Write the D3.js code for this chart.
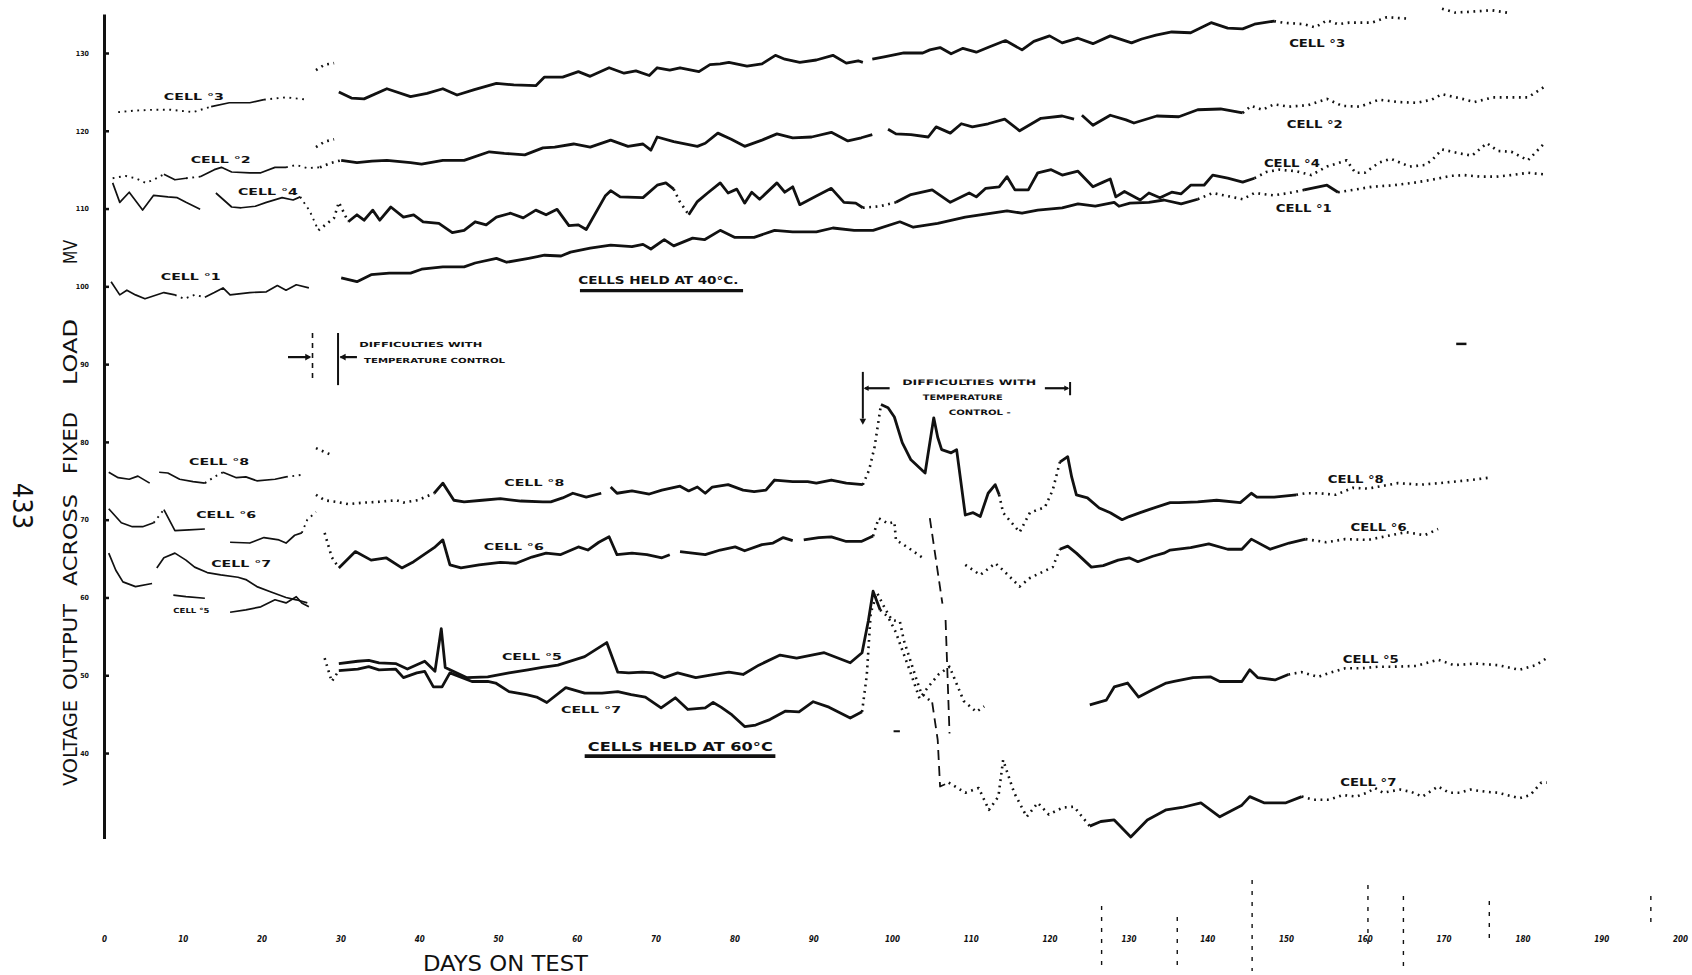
<!DOCTYPE html>
<html>
<head>
<meta charset="utf-8">
<script src="https://cdn.jsdelivr.net/npm/d3@7"></script>
<style>
html, body { margin: 0; padding: 0; background: #fff; }
svg { display: block; }
text { font-family: "DejaVu Sans Condensed", "Liberation Sans Narrow", "DejaVu Sans", sans-serif; fill: #111; }
</style>
</head>
<body>
<svg id="chart" width="1692" height="975"></svg>
<script>
// Voltage output across fixed load (mV) vs. days on test.
// Each series is a list of [day, mV]; a null value marks a break in the trace.

const dayTicks = d3.range(0, 201, 10);
const mvTicks = [40, 50, 60, 70, 80, 90, 100, 110, 120, 130];

// ---- cells held at 40 C ----
const cell3 = [
  [1.8,122.4],[4.0,122.6],[6.3,122.7],[8.5,122.7],[11.3,122.4],[13.6,123.1],[15.9,123.6],[18.5,123.6],[20.3,124.0],[23.1,124.3],[25.8,124.0],
  [26.4,null],[26.9,127.8],[28.0,128.5],[29.2,128.7],[29.5,null],
  [29.8,125.0],[31.4,124.2],[33.0,124.1],[35.9,125.4],[38.9,124.4],[41.0,124.8],[43.0,125.4],[44.8,124.6],[47.0,125.3],[49.8,126.1],[52.0,125.9],[54.8,125.8],[55.9,126.9],[58.2,126.9],[60.2,127.6],[61.7,127.0],[64.1,128.1],[66.0,127.4],[67.5,127.7],[69.2,127.1],[70.2,128.1],[71.8,127.8],[73.1,128.1],[75.5,127.6],[76.9,128.5],[78.2,128.6],[79.3,128.8],[81.6,128.3],[83.5,128.6],[85.2,129.7],[86.4,129.2],[88.3,128.8],[90.4,129.1],[92.5,129.7],[94.2,128.7],[95.7,129.0],[96.3,128.8],
  [96.9,null],
  [97.5,129.2],[99.0,129.5],[101.5,130.0],[103.9,130.0],[104.8,130.4],[106.1,130.7],[107.5,129.9],[109.0,130.6],[110.7,130.1],[112.4,130.8],[114.4,131.6],[116.5,130.4],[118.0,131.5],[120.0,132.2],[121.6,131.3],[123.6,131.9],[125.5,131.2],[127.7,132.2],[130.4,131.3],[131.7,131.8],[133.5,132.3],[135.5,132.7],[137.9,132.6],[140.5,133.9],[142.6,133.2],[144.5,133.1],[146.0,133.7],[148.5,134.1],[149.6,133.9],[152.3,133.7],[153.7,133.3],[155.2,134.2],[156.6,133.7],[158.0,133.9],[160.9,133.9],[162.8,134.6],[165.7,134.4],
  [167.5,null],
  [169.8,135.7],[171.4,135.2],[173.4,135.3],[176.1,135.5],[178.6,135.1]
];
const cell2 = [
  [1.1,113.9],[2.7,114.2],[4.0,113.9],[5.3,113.3],[6.3,113.7],[7.6,114.4],[9.0,113.7],[10.4,113.9],[12.2,114.1],[14.0,115.0],[14.9,115.3],[16.2,114.7],[18.5,114.6],[19.9,114.6],[21.7,115.3],[23.1,115.3],[24.4,115.6],[25.8,115.2],[27.4,115.3],[28.9,115.9],
  [30.1,116.2],[32.1,115.9],[34.0,116.1],[35.9,116.2],[38.9,115.9],[40.3,115.7],[43.0,116.2],[45.7,116.2],[48.9,117.3],[50.8,117.1],[53.4,116.9],[55.7,117.8],[57.2,117.9],[59.6,118.3],[61.7,117.9],[64.3,118.8],[66.5,118.0],[68.4,118.3],[69.4,117.5],[70.2,119.2],[72.3,118.6],[75.3,118.0],[76.3,118.4],[77.9,119.7],[79.6,118.9],[81.3,118.0],[83.5,118.8],[85.4,119.6],[87.4,119.1],[89.8,119.2],[92.3,119.8],[94.4,118.7],[96.1,119.1],[97.5,119.5],
  [98.5,null],
  [99.5,120.2],[100.5,119.6],[102.4,119.5],[104.6,119.2],[105.6,120.5],[107.4,119.7],[108.8,120.9],[110.2,120.5],[112.2,120.9],[114.3,121.5],[116.2,120.0],[118.9,121.6],[121.6,121.9],[123.1,121.5],
  [123.6,null],
  [124.1,122.0],[125.5,120.7],[127.7,122.0],[129.7,121.4],[130.7,121.0],[133.6,121.9],[136.4,121.8],[138.8,122.7],[141.7,122.8],[144.5,122.3],[145.6,123.2],[147.0,122.7],[148.5,123.4],[150.4,123.1],[152.8,123.3],[155.2,124.1],[157.1,123.2],[159.4,123.1],[161.8,124.0],[164.2,123.7],[166.6,123.6],[168.5,124.0],[169.8,124.7],[172.0,124.2],[173.9,123.7],[176.3,124.3],[178.7,124.3],[180.7,124.3],[182.7,125.6],
  [183.0,null],
  [26.9,117.9],[28.0,118.6],[29.2,118.9]
];
const cell4 = [
  [1.1,113.3],[2.0,110.8],[3.2,112.1],[4.9,109.8],[6.3,111.7],[8.1,111.5],[9.3,111.4],[10.4,110.8],[12.2,109.9],
  [13.2,null],
  [14.2,112.0],[16.2,110.2],[17.4,110.1],[19.2,110.3],[20.6,110.8],[22.6,111.4],[24.0,111.1],[24.9,111.5],[26.1,109.7],[27.2,107.2],[29.2,108.8],[29.8,110.8],
  [31.0,108.3],[32.1,109.2],[33.0,108.5],[34.1,109.8],[35.0,108.5],[36.4,110.2],[38.0,108.9],[39.3,109.2],[40.5,108.3],[42.5,108.1],[44.2,106.9],[45.7,107.2],[47.1,108.3],[48.5,107.9],[49.8,108.9],[51.6,109.4],[53.2,108.8],[54.8,109.8],[56.1,109.2],[57.5,109.9],[59.0,107.8],[60.2,107.9],[61.2,107.3],[63.6,111.6],[64.3,112.3],[65.5,111.5],[68.4,111.4],[70.2,113.0],[71.3,113.3],[72.3,112.5],[73.0,111.0],[74.2,109.2],[75.3,110.9],[76.6,112.0],[78.2,113.3],[79.2,112.0],[80.3,112.5],[81.3,110.7],[82.2,112.1],[83.2,111.2],[85.4,113.3],[86.4,112.1],[87.4,112.8],[88.3,110.5],[90.4,111.6],[92.3,112.6],[93.9,110.8],[95.4,110.7],[96.3,110.1],[98.5,110.3],[100.5,110.8],[102.4,111.8],[105.1,112.4],[107.4,110.8],[109.8,112.0],[110.7,111.5],[111.9,112.6],[113.6,112.8],[114.6,114.1],[115.6,112.4],[117.3,112.4],[118.5,114.6],[120.2,115.0],[121.6,114.3],[123.6,114.8],[125.5,112.8],[126.8,113.4],[127.7,113.8],[128.4,111.5],[129.5,112.2],[131.5,111.1],[132.6,112.0],[134.0,111.4],[135.5,112.1],[136.7,111.9],[137.9,113.0],[139.6,113.0],[140.7,114.3],[142.6,113.9],[144.5,113.4],[146.0,113.9],[147.5,114.7],[149.1,115.0],[151.3,114.8],[153.2,114.3],[155.2,115.4],[157.7,116.2],[158.8,114.6],[160.0,114.6],[161.8,115.9],[163.3,116.4],[165.7,115.4],[167.6,115.6],[168.5,116.2],[169.8,117.6],[172.0,117.1],[173.6,116.8],[175.5,118.4],[176.9,117.4],[178.6,117.3],[180.7,116.2],[182.7,118.3]
];
const cell1 = [
  [0.9,100.6],[2.0,98.9],[2.9,99.5],[4.0,98.9],[5.2,98.4],[7.6,99.2],[9.0,98.9],[10.2,98.4],[11.5,98.9],[12.8,98.6],[14.0,99.2],[15.1,99.8],[16.0,98.9],[18.5,99.2],[20.6,99.3],[22.0,100.1],[23.1,99.5],[24.4,100.2],[26.0,99.8],
  [28.0,null],
  [30.1,101.1],[32.1,100.6],[33.9,101.5],[36.2,101.7],[38.9,101.7],[40.3,102.2],[43.0,102.5],[45.7,102.5],[47.1,103.0],[49.8,103.6],[51.1,103.1],[53.9,103.6],[55.9,104.0],[58.0,103.9],[59.2,104.4],[61.7,104.9],[64.3,105.3],[67.0,105.1],[68.4,105.4],[69.4,104.8],[71.1,106.0],[72.3,105.2],[74.7,106.2],[76.2,106.0],[78.2,107.2],[80.0,106.3],[82.5,106.3],[85.1,107.2],[87.4,107.0],[90.4,107.0],[92.5,107.5],[95.2,107.2],[97.6,107.2],[101.0,108.3],[102.7,107.6],[105.8,108.1],[109.3,108.9],[111.2,109.2],[114.6,109.7],[116.5,109.4],[118.5,109.8],[121.6,110.1],[123.6,110.6],[125.8,110.3],[128.2,110.8],[128.8,110.3],[130.2,110.7],[132.6,110.8],[134.5,111.1],[136.7,110.6],[138.8,111.2],[140.7,112.0],[142.6,111.6],[144.5,111.2],[146.0,112.0],[148.5,111.7],[150.4,112.0],[152.3,112.4],[155.2,113.0],[156.6,112.1],[158.5,112.4],[160.9,112.8],[163.7,113.0],[166.1,113.3],[168.5,113.7],[170.9,114.2],[172.6,114.3],[174.7,114.1],[176.7,114.1],[178.6,114.3],[180.7,114.6],[182.8,114.4]
];

// ---- cells held at 60 C ----
const cell8 = [
  [0.6,76.1],[1.8,75.4],[3.2,75.2],[4.3,75.6],[5.8,74.7],
  [6.4,null],
  [7.0,76.1],[8.1,76.0],[9.6,75.2],[11.3,74.9],[12.8,74.7],[14.0,75.5],[15.1,76.1],[16.8,75.4],[18.0,75.5],[19.4,75.0],[21.7,75.2],[23.1,75.5],[25.4,75.8],
  [26.0,null],
  [26.9,79.2],[28.9,78.3],
  [29.0,null],
  [26.9,73.2],[28.0,72.5],[29.4,72.3],[31.0,72.0],[33.0,72.2],[34.9,72.3],[37.1,72.5],[38.0,72.2],[39.8,72.5],[41.9,73.4],[43.0,74.7],[44.4,72.5],[45.7,72.3],[48.0,72.5],[50.3,72.7],[52.9,72.4],[55.7,72.3],[56.7,72.3],[58.2,72.8],[59.5,73.4],[61.2,72.9],[63.1,73.4],
  [63.7,null],
  [64.3,74.2],[65.1,73.4],[67.0,73.7],[69.2,73.3],[70.8,73.8],[73.1,74.3],[74.2,73.7],[75.3,74.2],[76.3,73.4],[77.2,74.2],[79.2,74.5],[81.1,73.8],[82.5,73.6],[84.0,73.8],[85.1,75.1],[87.4,74.9],[89.3,74.9],[90.4,74.7],[92.3,75.1],[94.2,74.7],[96.3,74.5],[97.1,76.4],[97.8,79.4],[98.6,84.8],[99.5,84.4],[100.3,83.2],[101.3,79.9],[102.4,77.7],[104.2,76.0],[104.6,78.6],[105.3,83.1],[105.8,80.6],[106.3,79.0],[107.5,78.6],[108.2,79.0],[109.3,70.6],[110.3,70.9],[111.2,70.4],[112.2,73.4],[113.1,74.5],[113.6,73.2],[114.1,70.9],[116.2,68.4],[117.5,70.9],[119.4,71.6],[120.4,73.8],[121.3,77.4],[122.3,78.1],[122.8,75.5],[123.4,73.2],[124.8,72.8],[126.3,71.5],[127.7,70.9],[129.2,70.0],[130.1,70.4],[131.5,70.9],[132.6,71.3],[135.3,72.2],[136.4,72.2],[138.8,72.3],[141.2,72.5],[144.2,72.2],[145.6,73.4],[146.3,72.9],[148.5,72.9],[151.3,73.2],[152.5,73.4],[154.2,73.4],[156.3,73.2],[158.5,74.1],[160.4,74.0],[164.2,74.7],[167.1,74.5],[169.5,74.7],[173.4,75.1],[175.8,75.4]
];
const cell6 = [
  [0.6,71.4],[2.2,69.6],[3.6,69.1],[4.9,69.1],[6.3,69.6],[7.6,71.3],[9.0,68.6],[10.8,68.7],[12.8,68.8],
  [14.0,null],
  [16.0,67.1],[18.5,67.0],[20.3,67.7],[22.2,67.4],[23.1,67.0],[24.2,68.0],[25.1,68.3],[25.8,70.0],[26.9,71.0],
  [27.4,null],
  [28.0,68.3],[28.9,65.2],[29.8,63.8],[31.9,65.9],[33.9,64.8],[35.8,65.1],[37.8,63.8],[39.3,64.6],[41.9,66.4],[43.0,67.4],[43.9,64.2],[45.3,63.8],[47.6,64.2],[50.3,64.5],[52.3,64.4],[54.3,65.2],[56.1,65.7],[57.9,65.5],[60.2,66.5],[61.4,66.1],[62.8,67.1],[64.1,67.8],[65.1,65.5],[67.0,65.7],[68.9,65.5],[70.8,65.1],[71.8,65.5],
  [72.4,null],
  [73.1,65.9],[74.7,65.7],[76.3,65.5],[78.2,66.1],[80.1,66.5],[81.3,66.0],[83.5,66.8],[84.9,67.0],[86.2,67.7],[87.4,67.3],
  [88.1,null],
  [88.8,67.4],[90.7,67.7],[92.3,67.8],[94.2,67.2],[96.1,67.2],[97.6,67.9],[98.3,70.2],[99.5,69.5],[100.3,69.7],[100.5,67.4],[101.9,66.5],[103.9,65.1],
  [104.3,null],
  [109.3,64.2],[111.2,62.9],[113.1,64.4],[114.1,63.5],[116.2,61.4],[117.5,62.5],[120.4,63.9],[121.3,66.2],[122.3,66.6],[123.4,65.7],[125.3,63.9],[126.8,64.1],[128.7,64.8],[130.1,65.1],[131.2,64.6],[133.1,65.3],[134.5,65.7],[135.3,66.1],[137.9,66.4],[140.2,66.9],[142.6,66.2],[144.4,66.2],[145.6,67.5],[148.0,66.2],[150.4,67.0],[152.5,67.5],[155.1,67.1],[157.5,67.5],[160.4,67.4],[163.3,68.0],[165.2,68.4],[167.6,68.0],[169.3,68.8]
];
const cell5 = [
  [8.8,60.3],[10.4,60.1],[12.8,59.9],
  [14.0,null],
  [16.0,58.1],[18.0,58.4],[19.9,58.8],[21.7,59.7],[23.1,59.3],[24.4,60.1],[25.1,59.3],[26.0,58.8],
  [27.0,null],
  [29.8,51.5],[32.2,51.8],[33.6,51.9],[34.9,51.6],[37.0,51.5],[38.5,50.8],[40.7,51.8],[42.0,50.5],[42.8,56.0],[43.3,51.0],[43.9,50.7],[46.0,49.7],[48.7,49.8],[51.4,50.3],[53.8,50.7],[55.6,51.0],[57.6,51.3],[59.8,52.0],[61.0,52.4],[62.4,53.3],[63.8,54.2],[65.2,50.4],[66.6,50.3],[68.3,50.4],[69.7,50.3],[71.1,49.7],[72.8,50.3],[75.1,49.7],[77.5,50.1],[79.3,50.4],[81.1,50.1],[83.1,51.3],[85.8,52.6],[87.9,52.2],[91.4,52.9],[94.7,51.6],[96.2,52.9],[97.0,57.0],[97.6,60.8],[98.5,58.4],[99.5,57.5],[100.5,55.5],[101.1,53.8],[102.3,50.5],[103.5,47.0],[104.6,48.5],[105.9,50.1],[107.3,51.1],[109.1,46.7],[110.7,45.3],[111.7,46.0],
  [112.5,null],
  [125.1,46.2],[127.2,46.8],[128.2,48.5],[129.9,49.0],[131.3,47.2],[133.0,48.1],[134.8,49.0],[135.8,49.2],[138.2,49.7],[140.4,49.8],[141.6,49.2],[144.4,49.2],[145.4,50.7],[146.4,49.7],[148.6,49.4],[150.3,50.1],[152.0,50.4],[154.1,49.8],[155.5,50.3],[157.5,50.9],[159.6,50.9],[161.7,51.1],[163.7,51.1],[166.5,51.2],[169.3,52.0],[171.3,51.3],[174.1,51.5],[176.9,51.3],[179.6,50.7],[181.7,51.3],[183.1,52.2]
];
const cell7 = [
  [0.6,65.7],[1.5,63.5],[2.4,62.0],[4.0,61.4],[6.1,61.8],
  [6.4,null],
  [6.7,63.8],[7.6,65.1],[9.0,65.7],[10.4,64.8],[11.5,63.9],[13.1,63.2],[14.8,62.9],[17.0,62.6],[18.0,62.3],[19.4,61.4],[21.2,60.7],[23.1,60.0],[24.4,59.7],[25.8,59.3],
  [27.0,null],
  [28.0,52.2],[28.9,49.2],[29.8,50.6],[32.2,50.8],[33.6,51.1],[34.9,50.7],[37.0,50.8],[38.0,49.7],[39.7,50.3],[40.7,50.5],[41.8,48.5],[42.9,48.5],[43.9,50.3],[46.7,49.2],[48.7,49.2],[49.7,49.0],[51.4,47.9],[53.6,47.5],[54.9,47.2],[56.2,46.5],[58.6,48.4],[61.0,47.7],[63.2,47.7],[65.2,47.9],[66.9,47.5],[68.7,47.2],[70.7,45.8],[72.5,47.1],[74.1,45.6],[76.3,45.8],[77.3,46.5],[78.3,45.9],[79.7,44.9],[81.3,43.4],[82.7,43.6],[84.5,44.3],[86.5,45.4],[88.2,45.3],[90.0,46.6],[92.0,45.9],[94.7,44.5],[96.2,45.3],[96.8,50.0],[97.3,58.0],[98.1,60.6],[99.2,58.4],[100.0,57.1],[101.0,56.9],[101.5,54.5],[103.0,49.8],[103.7,47.7],[105.1,46.5],[105.8,41.7],[106.1,35.7],[107.2,36.2],[109.3,34.9],[111.0,35.5],[112.3,32.7],[113.5,34.4],[114.1,39.1],[115.5,34.9],[117.1,31.8],[118.5,33.6],[119.9,32.1],[121.7,33.0],[123.1,33.1],[125.1,30.6],[126.5,31.2],[128.2,31.4],[130.3,29.2],[132.4,31.4],[134.8,32.7],[136.8,33.0],[139.2,33.6],[141.6,31.8],[144.4,33.3],[145.4,34.4],[147.2,33.6],[150.0,33.6],[152.0,34.4],[153.4,34.0],[155.5,34.0],[157.2,34.6],[158.9,34.4],[160.3,34.9],[161.3,35.5],[162.3,34.9],[164.5,35.3],[165.9,35.0],[167.3,34.4],[169.3,35.7],[170.7,34.9],[172.1,34.9],[173.4,35.3],[175.5,35.0],[176.9,34.9],[179.6,34.2],[181.0,34.6],[182.4,36.2],[183.1,36.2],
  [183.5,null],
  [104.8,70.2],[106.4,59.2],
  [106.6,null],
  [106.8,57.1],[107.3,42.5]
];

// Day spans traced with a dotted pen, and spans drawn in long dashes
const cell3Dotted = [[0,13.5],[19.5,29.5],[148.5,185]];
const cell2Dotted = [[0,7],[10,13],[23.5,30],[145,185]];
const cell4Dotted = [[25,31],[72.5,74],[96,100],[146.5,185]];
const cell1Dotted = [[9.5,13],[138.8,152],[156.8,185]];
const cell8Dotted = [[13,15],[22.5,42],[96.3,98.6],[113.8,121],[151.5,185]];
const cell6Dotted = [[6,8],[25,29.5],[97.6,121],[152.5,185]];
const cell5Dotted = [[26,29.8],[98.5,125],[150,185]];
const cell7Dotted = [[6,7],[26,29.8],[96.2,125],[152,185]];
const cell7Dashed = [[104.5,108]];

const series = [
  { id: "cell3", pts: cell3, dotted: cell3Dotted, dashed: [] },
  { id: "cell2", pts: cell2, dotted: cell2Dotted, dashed: [] },
  { id: "cell4", pts: cell4, dotted: cell4Dotted, dashed: [] },
  { id: "cell1", pts: cell1, dotted: cell1Dotted, dashed: [] },
  { id: "cell8", pts: cell8, dotted: cell8Dotted, dashed: [] },
  { id: "cell6", pts: cell6, dotted: cell6Dotted, dashed: [] },
  { id: "cell5", pts: cell5, dotted: cell5Dotted, dashed: [] },
  { id: "cell7", pts: cell7, dotted: cell7Dotted, dashed: cell7Dashed }
];

// Hand-lettered series labels, anchored in day / mV units
const cellLabels = [
  ["CELL °3", 7.6, 124.0, "s"], ["CELL °2", 11.0, 115.9, "s"], ["CELL °4", 17.0, 111.7, "s"], ["CELL °1", 7.2, 100.8, "s"],
  ["CELL °3", 150.4, 130.8, "b"], ["CELL °2", 150.1, 120.4, "b"], ["CELL °4", 147.2, 115.3, "b"], ["CELL °1", 148.7, 109.6, "b"],
  ["CELL °8", 10.8, 77.0, "s"], ["CELL °6", 11.7, 70.2, "s"], ["CELL °7", 13.6, 63.9, "s"], ["CELL °5", 8.8, 58.0, "xs"],
  ["CELL °8", 50.8, 74.3, "s"], ["CELL °6", 48.2, 66.1, "s"], ["CELL °5", 50.5, 52.0, "s"], ["CELL °7", 58.0, 45.1, "s"],
  ["CELL °8", 155.3, 74.7, "b"], ["CELL °6", 158.2, 68.6, "b"], ["CELL °5", 157.2, 51.6, "b"], ["CELL °7", 156.9, 35.7, "b"]
];

const thinBefore = 27;   // early readings were drawn with a finer pen

const svg = d3.select("#chart");
const x = d3.scaleLinear().domain([0, 200]).range([104, 1680]);
const y = d3.scaleLinear().domain([29, 135]).range([838.6, 14.1]);
const ink = "#111";

// ---- axes ----
const yAxis = d3.axisLeft(y).tickValues(mvTicks).tickSizeInner(-5).tickSizeOuter(0).tickPadding(15);
const gy = svg.append("g").attr("transform", `translate(${x(0)},0)`).call(yAxis);
gy.select(".domain").attr("stroke", ink).attr("stroke-width", 3);
gy.selectAll(".tick line").attr("stroke", ink).attr("stroke-width", 2.5);
gy.selectAll(".tick text").attr("font-size", 7).attr("font-weight", "bold").attr("fill", ink);

const xAxis = d3.axisBottom(x).tickValues(dayTicks).tickSize(0).tickPadding(0);
const gx = svg.append("g").attr("transform", "translate(0,936)").call(xAxis);
gx.select(".domain").remove();
gx.selectAll(".tick text").attr("font-size", 8).attr("font-weight", "bold").attr("font-style", "italic").attr("fill", ink);

// ---- traces ----
const line = d3.line().x(d => x(d[0])).y(d => y(d[1]));
const inAny = (d, ranges) => ranges.some(([a, b]) => d >= a && d <= b);

const gLines = svg.append("g").attr("fill", "none").attr("stroke", ink).attr("stroke-linejoin", "round");
series.forEach(s => {
  const runs = [];
  let cur = [];
  s.pts.forEach(p => {
    if (p[1] === null) { if (cur.length) runs.push(cur); cur = []; }
    else cur.push(p);
  });
  if (cur.length) runs.push(cur);

  runs.forEach(run => {
    const pieces = [];
    let piece = null;
    for (let i = 0; i < run.length - 1; i++) {
      const a = run[i], b = run[i + 1];
      const mid = (a[0] + b[0]) / 2;
      const kind = inAny(mid, s.dashed) ? "dash" : inAny(mid, s.dotted) ? "dot" : "solid";
      const thin = mid < thinBefore;
      const key = kind + (thin ? "-thin" : "");
      if (!piece || piece.key !== key) { piece = { key, kind, thin, pts: [a] }; pieces.push(piece); }
      piece.pts.push(b);
    }
    pieces.forEach(pc => {
      const p = gLines.append("path").attr("class", s.id).attr("d", line(pc.pts));
      if (pc.kind === "solid") {
        p.attr("stroke-width", pc.thin ? 1.7 : 2.8);
      } else if (pc.kind === "dot") {
        p.attr("stroke-width", pc.thin ? 1.9 : 2.6).attr("stroke-dasharray", "1.8,4.6");
      } else {
        p.attr("stroke-width", 1.8).attr("stroke-dasharray", "10,6");
      }
    });
  });
});

// ---- series labels ----
svg.append("g").selectAll("text").data(cellLabels).join("text")
  .attr("x", d => x(d[1]))
  .attr("y", d => y(d[2]))
  .attr("font-weight", "bold")
  .attr("font-size", d => d[3] === "b" ? 11 : d[3] === "xs" ? 7 : 8.5)
  .attr("textLength", d => d[3] === "b" ? 56 : d[3] === "xs" ? 36 : 60)
  .attr("lengthAdjust", "spacingAndGlyphs")
  .text(d => d[0]);

// ---- notes ----
const gNotes = svg.append("g").attr("stroke", ink).attr("fill", "none");
function arrowHead(g, px, py, dir, size) {
  const s = size || 6;
  const pts = dir === "right" ? [[px, py], [px - s, py - s * 0.55], [px - s, py + s * 0.55]]
            : dir === "left"  ? [[px, py], [px + s, py - s * 0.55], [px + s, py + s * 0.55]]
            :                   [[px, py], [px - s * 0.55, py - s], [px + s * 0.55, py - s]];
  g.append("path").attr("d", "M" + pts.map(p => p.join(",")).join("L") + "Z").attr("fill", ink).attr("stroke", "none");
}

// Temperature control trouble, first interval (days ~26-30)
gNotes.append("line").attr("x1", x(23.35)).attr("x2", x(26.1)).attr("y1", y(90.9)).attr("y2", y(90.9)).attr("stroke-width", 2.2);
arrowHead(gNotes, x(26.3), y(90.9), "right", 6);
gNotes.append("line").attr("x1", x(26.46)).attr("x2", x(26.46)).attr("y1", y(94.0)).attr("y2", y(87.6)).attr("stroke-width", 1.6).attr("stroke-dasharray", "5,5");
gNotes.append("line").attr("x1", x(29.7)).attr("x2", x(29.7)).attr("y1", y(94.0)).attr("y2", y(87.3)).attr("stroke-width", 2);
gNotes.append("line").attr("x1", x(32.1)).attr("x2", x(30.0)).attr("y1", y(90.9)).attr("y2", y(90.9)).attr("stroke-width", 2.2);
arrowHead(gNotes, x(29.9), y(90.9), "left", 6);
svg.append("text").attr("x", x(32.4)).attr("y", y(92.2)).attr("font-size", 7).attr("font-weight", "bold")
  .attr("textLength", 123).attr("lengthAdjust", "spacingAndGlyphs").text("DIFFICULTIES  WITH");
svg.append("text").attr("x", x(33.0)).attr("y", y(90.2)).attr("font-size", 7).attr("font-weight", "bold")
  .attr("textLength", 141).attr("lengthAdjust", "spacingAndGlyphs").text("TEMPERATURE  CONTROL");

// Temperature control trouble, second interval (days ~96-122)
gNotes.append("line").attr("x1", x(96.3)).attr("x2", x(96.3)).attr("y1", y(89.0)).attr("y2", y(83.0)).attr("stroke-width", 2);
arrowHead(gNotes, x(96.3), y(82.2), "down", 6);
gNotes.append("line").attr("x1", x(96.6)).attr("x2", x(99.7)).attr("y1", y(86.9)).attr("y2", y(86.9)).attr("stroke-width", 2.2);
arrowHead(gNotes, x(96.4), y(86.9), "left", 5);
gNotes.append("line").attr("x1", x(119.4)).attr("x2", x(122.3)).attr("y1", y(86.9)).attr("y2", y(86.9)).attr("stroke-width", 2.2);
arrowHead(gNotes, x(122.5), y(86.9), "right", 5);
gNotes.append("line").attr("x1", x(122.6)).attr("x2", x(122.6)).attr("y1", y(87.7)).attr("y2", y(86.0)).attr("stroke-width", 2);
svg.append("text").attr("x", x(101.3)).attr("y", y(87.3)).attr("font-size", 7.5).attr("font-weight", "bold")
  .attr("textLength", 134).attr("lengthAdjust", "spacingAndGlyphs").text("DIFFICULTIES   WITH");
svg.append("text").attr("x", x(103.9)).attr("y", y(85.4)).attr("font-size", 7.5).attr("font-weight", "bold")
  .attr("textLength", 80).attr("lengthAdjust", "spacingAndGlyphs").text("TEMPERATURE");
svg.append("text").attr("x", x(107.2)).attr("y", y(83.5)).attr("font-size", 7.5).attr("font-weight", "bold")
  .attr("textLength", 62).attr("lengthAdjust", "spacingAndGlyphs").text("CONTROL -");

// Test temperature captions
svg.append("text").attr("x", x(60.2)).attr("y", y(100.3)).attr("font-size", 10).attr("font-weight", "bold")
  .attr("textLength", 160).attr("lengthAdjust", "spacingAndGlyphs").text("CELLS HELD AT  40°C.");
gNotes.append("line").attr("x1", x(60.4)).attr("x2", x(81.1)).attr("y1", y(99.45)).attr("y2", y(99.45)).attr("stroke-width", 3.2);
svg.append("text").attr("x", x(61.4)).attr("y", y(40.2)).attr("font-size", 12).attr("font-weight", "bold")
  .attr("textLength", 185).attr("lengthAdjust", "spacingAndGlyphs").text("CELLS HELD AT  60°C");
gNotes.append("line").attr("x1", x(61.0)).attr("x2", x(85.2)).attr("y1", y(39.6)).attr("y2", y(39.6)).attr("stroke-width", 3.6);

// Faint pencil marks near the right of the day scale
const pencilMarks = [[126.6, 906, 971], [136.2, 917, 971], [145.7, 880, 971], [160.4, 885, 950], [164.9, 896, 971], [175.8, 901, 939], [196.3, 896, 928]];
svg.append("g").selectAll("line").data(pencilMarks).join("line")
  .attr("x1", d => x(d[0])).attr("x2", d => x(d[0]))
  .attr("y1", d => d[1]).attr("y2", d => d[2])
  .attr("stroke", ink).attr("stroke-width", 1.4).attr("stroke-dasharray", "4,7");
gNotes.append("line").attr("x1", x(171.6)).attr("x2", x(172.9)).attr("y1", y(92.6)).attr("y2", y(92.6)).attr("stroke-width", 2.5);
gNotes.append("line").attr("x1", x(100.2)).attr("x2", x(101.0)).attr("y1", y(42.8)).attr("y2", y(42.8)).attr("stroke-width", 2);

// ---- titles ----
const titleWords = [["VOLTAGE", 743, 86], ["OUTPUT", 647, 86], ["ACROSS", 540, 92], ["FIXED", 443, 62], ["LOAD", 352, 66], ["MV", 252, 24]];
svg.append("g").selectAll("text").data(titleWords).join("text")
  .attr("transform", d => `translate(77,${d[1]}) rotate(-90)`)
  .attr("text-anchor", "middle")
  .attr("font-size", 19)
  .attr("textLength", d => d[2])
  .attr("lengthAdjust", "spacingAndGlyphs")
  .text(d => d[0]);

svg.append("text").attr("transform", "translate(13,506) rotate(90)").attr("text-anchor", "middle")
  .attr("font-size", 27).attr("font-family", "DejaVu Sans, sans-serif").text("433");

svg.append("text").attr("x", 423).attr("y", 971).attr("font-size", 21)
  .attr("textLength", 165).attr("lengthAdjust", "spacingAndGlyphs").text("DAYS ON TEST");
</script>
</body>
</html>
